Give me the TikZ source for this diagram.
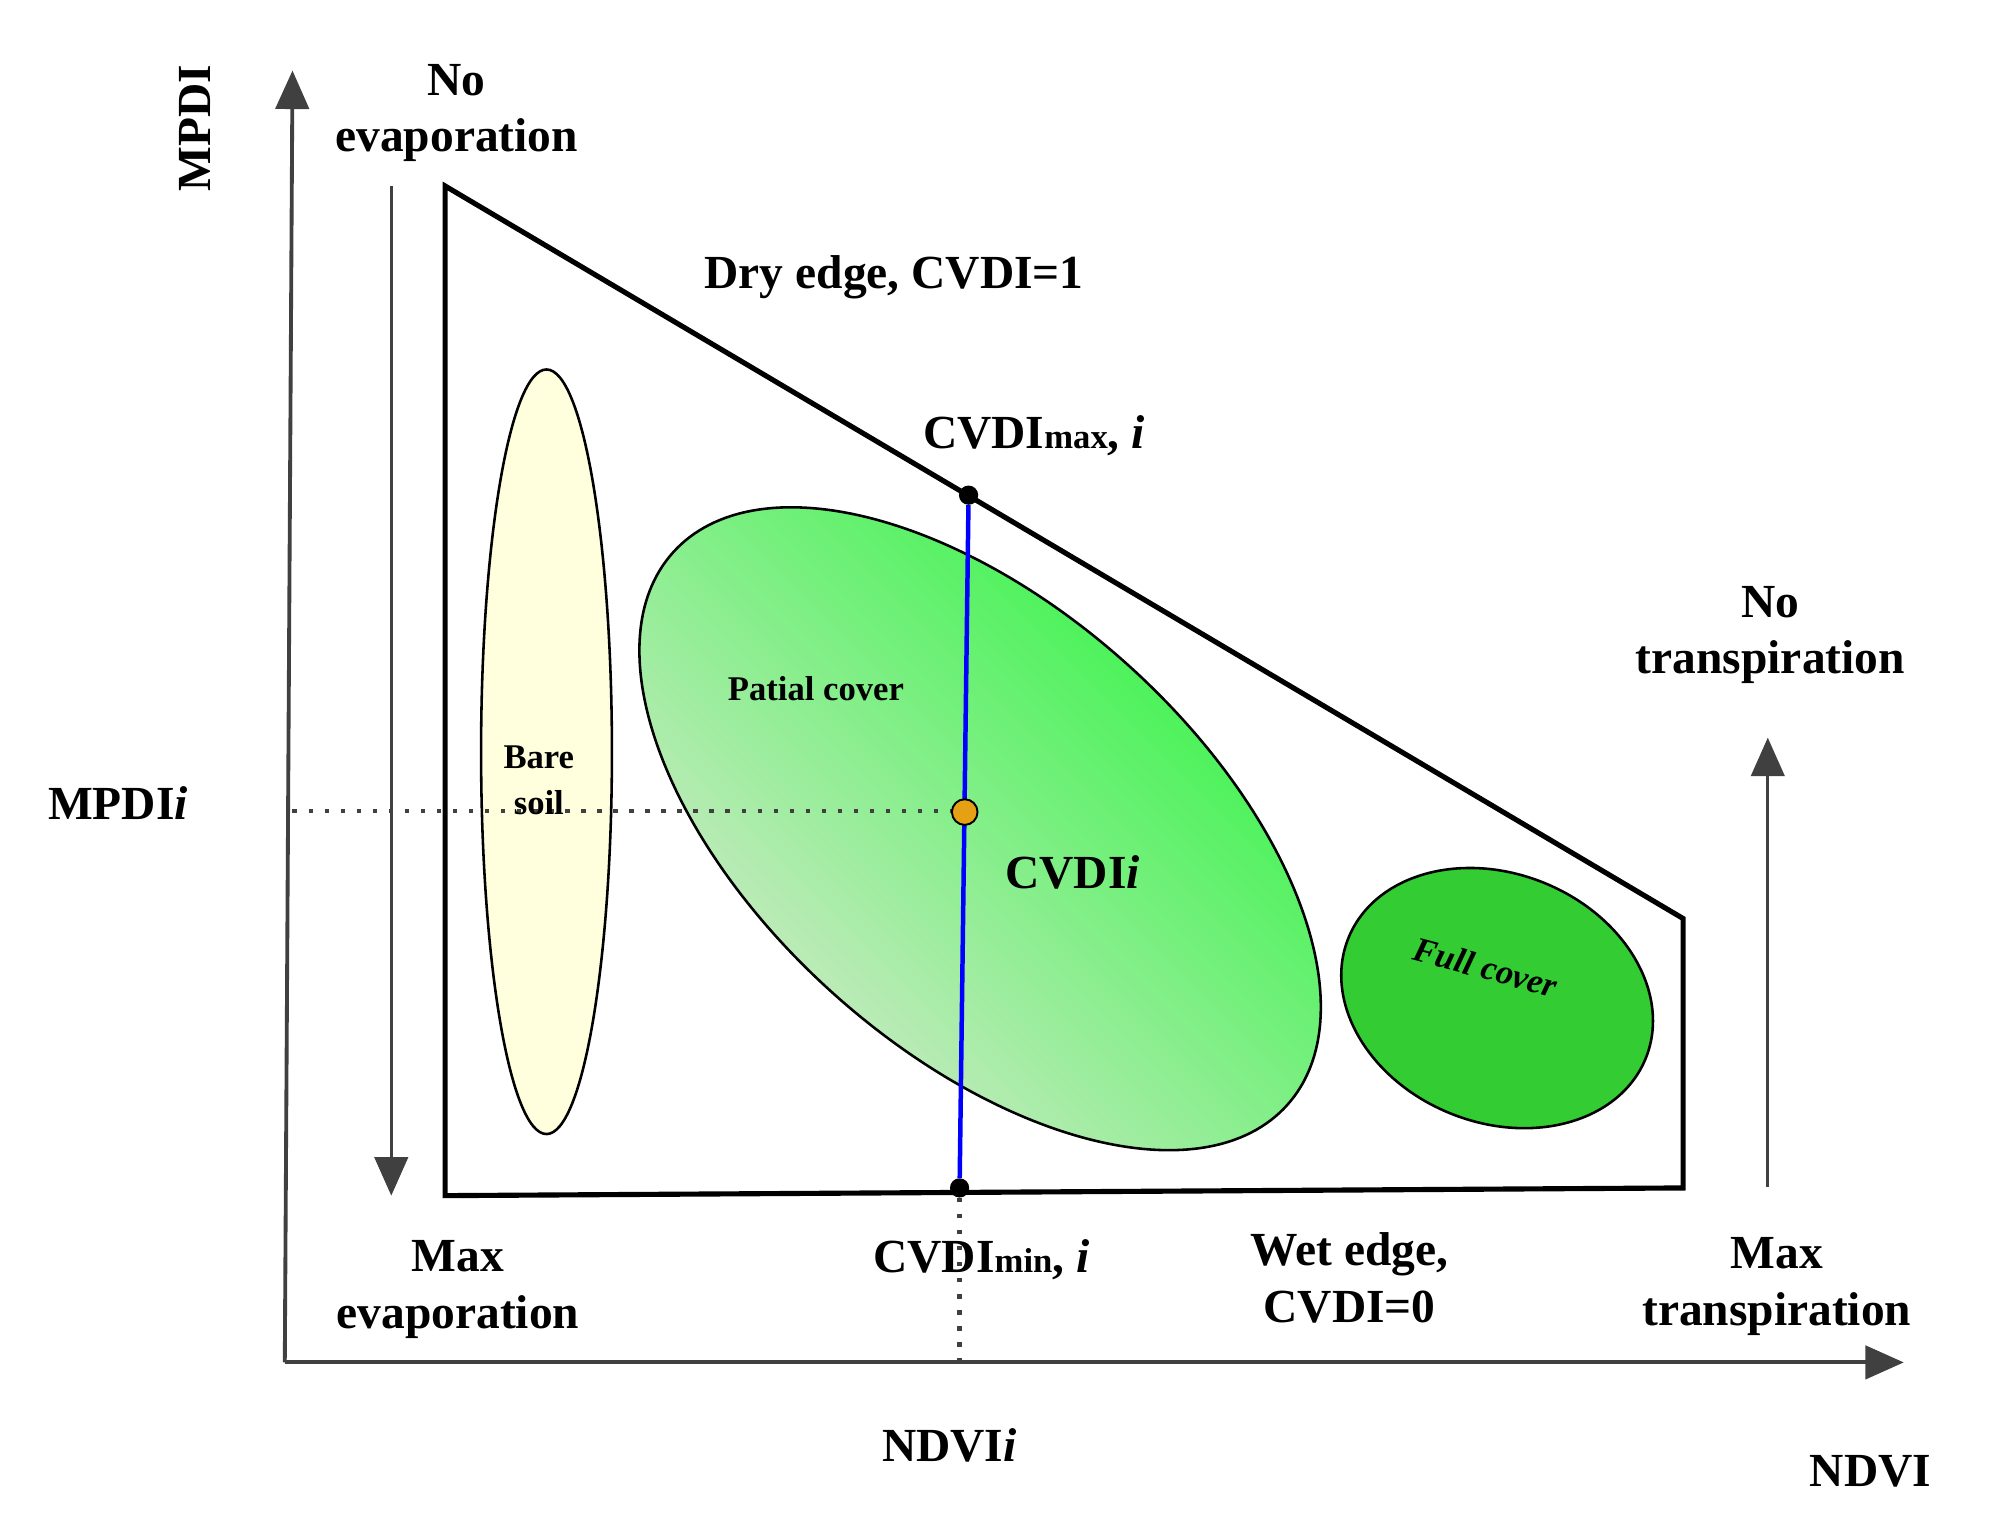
\documentclass[tikz,border=0pt]{standalone}
\usepackage{fontspec}
\setmainfont{Liberation Serif}
\usetikzlibrary{arrows.meta,shapes.geometric}
\definecolor{axg}{RGB}{64,64,64}
\definecolor{bare}{RGB}{255,255,221}
\definecolor{full}{RGB}{51,204,51}
\definecolor{dotor}{RGB}{230,160,20}
\begin{document}
\begin{tikzpicture}[x=1pt,y=-1pt,
  big/.style={font=\fontsize{37}{44}\selectfont\bfseries,align=center},
  mid/.style={font=\fontsize{27}{30}\selectfont\bfseries,align=center},
  axis/.style={line width=3pt,axg,-{Triangle[length=30pt,width=26pt]}},
  garrow/.style={line width=2.5pt,axg,-{Triangle[length=30pt,width=26pt]}},
  gdot/.style={line width=3.5pt,axg,dash pattern=on 3.5pt off 9pt},
  pt/.style={circle,fill=black,inner sep=0pt,minimum size=15pt}]
\useasboundingbox (0,0) rectangle (1552,1183);
% axes
\coordinate (O) at (222,1062);
\coordinate (Yt) at (228,55);
\coordinate (Xt) at (1484,1062);
\draw[axis] (O) -- (Yt);
\draw[axis] (O) -- (Xt);
% ellipses
\node[draw=black,line width=2pt,fill=bare,ellipse,minimum width=102pt,minimum height=596pt,inner sep=0pt] (bare) at (426,586) {};
\shade[right color={rgb,255:red,225;green,232;blue,215},left color={rgb,255:red,40;green,245;blue,60},shading angle=-45,rotate around={-42:(764,646)}] (764,646) ellipse [x radius=322pt,y radius=172pt];
\draw[line width=2pt,rotate around={-42:(764,646)}] (764,646) ellipse [x radius=322pt,y radius=172pt];
\draw[line width=2pt,fill=full,rotate around={-22:(1167,778)}] (1167,778) ellipse [x radius=125pt,y radius=97pt];
% trapezoid
\coordinate (A) at (347,145);
\coordinate (B) at (1312,716);
\coordinate (C) at (1312,926);
\coordinate (D) at (347,932);
\draw[line width=4pt,line join=miter] (A) -- (B) -- (C) -- (D) -- cycle;
% dotted guides
\coordinate (My) at (228,632);
\coordinate (Nx) at (748,1062);
\node[pt] (top) at (755,386) {};
\node[pt] (bot) at (748,926) {};
\draw[gdot] (My) -- (752,632);
\draw[gdot] (bot) -- (Nx);
\draw[line width=3.5pt,blue] (top) -- (bot);
\node[circle,draw=black,line width=1.5pt,fill=dotor,minimum width=18pt,minimum height=20pt,inner sep=0pt] (mid) at (752,633) {};
% side arrows
\coordinate (L1) at (305,145); \coordinate (L2) at (305,932);
\draw[garrow] (L1) -- (L2);
\coordinate (R1) at (1378,925); \coordinate (R2) at (1378,575);
\draw[garrow] (R1) -- (R2);
% labels
\node[big,rotate=90] (mpdi) at (152,100) {MPDI};
\node[big] (noev) at (356,88) {No\\evaporation};
\node[big] (dry) at (697,216) {Dry edge, CVDI=1};
\node[big,anchor=west] (cmax) at (716,340) {CVDI{\fontsize{27}{30}\selectfont max}, \textit{i}};
\node[big] (notr) at (1380,495) {No\\transpiration};
\node[mid] (pat) at (636,537) {Patial cover};
\node[mid,font=\fontsize{27}{36}\selectfont\bfseries] (bs) at (420,608) {Bare\\soil};
\node[big] (mpdii) at (92,626) {MPDI\textit{i}};
\node[big] (cvdii) at (836,680) {CVDI\textit{i}};
\node[rotate=-15,inner sep=0pt,font=\fontsize{27}{30}\selectfont\bfseries\itshape] (fc) at (1158,754) {Full cover};
\node[big] (maxev) at (357,1005) {Max\\evaporation};
\node[big] (cmin) at (765,982) {CVDI{\fontsize{27}{30}\selectfont min}, \textit{i}};
\node[big] (wet) at (1052,996) {Wet edge,\\CVDI=0};
\node[big] (maxtr) at (1385,1003) {Max\\transpiration};
\node[big] (ndvii) at (740,1127) {NDVI\textit{i}};
\node[big] (ndvi) at (1458,1147) {NDVI};
\end{tikzpicture}
\end{document}
